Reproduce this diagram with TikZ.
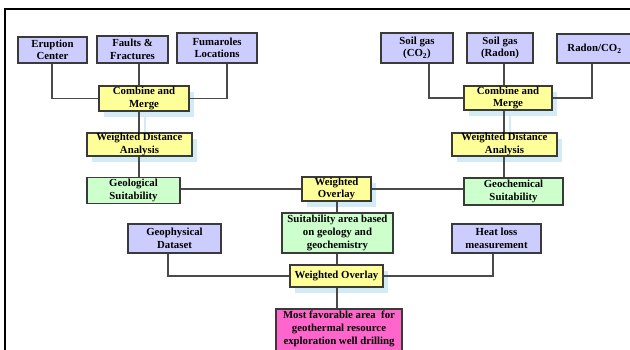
\documentclass[tikz,border=0pt]{standalone}
\usepackage{fontspec}
\setmainfont{Liberation Serif}
\usetikzlibrary{shadows}
\definecolor{lav}{HTML}{CCCCFF}
\definecolor{yel}{HTML}{FFFF99}
\definecolor{grn}{HTML}{CCFFCC}
\definecolor{mag}{HTML}{FF66CC}
\definecolor{shblue}{HTML}{D3EBF4}
\definecolor{edge}{HTML}{3A3A3A}
\definecolor{wire}{HTML}{4A4A4A}
\tikzset{
  box/.style={draw=edge, line width=1.1pt, inner sep=0pt, align=center,
    font=\fontsize{10.8}{12.6}\selectfont\bfseries, text=black},
  inbox/.style={box, fill=lav},
  procbox/.style={box, fill=yel, general shadow={fill=shblue, shadow xshift=5pt, shadow yshift=-6pt}},
  resbox/.style={box, fill=grn},
  finalbox/.style={box, fill=mag},
  wire/.style={draw=wire, line width=1.1pt},
  shline/.style={draw=shblue, line width=1.2pt},
}
\begin{document}
\begin{tikzpicture}[x=1pt,y=-1pt]
\useasboundingbox (0,0) rectangle (630,350);
% frame
\draw[line width=1.6pt, black] (5,352) -- (5,9) -- (632,9);

% shadow lines of connectors between yellow boxes
\draw[shline] (145,111) -- (145,133);
\draw[shline] (510,110) -- (510,133);

% left branch
\node[inbox, minimum width=69pt, minimum height=26pt] (erupt) at (52.5,50) {Eruption\\Center};
\node[inbox, minimum width=71pt, minimum height=27pt] (faults) at (132.5,49.5) {Faults \&\\Fractures};
\node[inbox, minimum width=80pt, minimum height=30pt] (fum) at (217,48) {Fumaroles\\Locations};
\node[procbox, minimum width=90pt, minimum height=25pt] (cm1) at (144,98.5) {Combine and\\Merge};
\node[procbox, minimum width=105pt, minimum height=23pt] (wda1) at (139.5,144.5) {Weighted Distance\\Analysis};
\node[resbox, minimum width=93pt, minimum height=26pt] (geol) at (133.5,190.5) {Geological\\Suitability};

% right branch
\node[inbox, minimum width=72pt, minimum height=30pt] (soil1) at (417,48) {Soil gas\\(CO\textsubscript{2})};
\node[inbox, minimum width=66pt, minimum height=30pt] (soil2) at (500,48) {Soil gas\\(Radon)};
\node[inbox, minimum width=75pt, minimum height=29pt] (radon) at (594.5,48.5) {Radon/CO\textsubscript{2}};
\node[procbox, minimum width=88pt, minimum height=24pt] (cm2) at (508,98) {Combine and\\Merge};
\node[procbox, minimum width=105pt, minimum height=23pt] (wda2) at (504.5,144.5) {Weighted Distance\\Analysis};
\node[resbox, minimum width=99pt, minimum height=27pt] (geoc) at (513.5,191.5) {Geochemical\\Suitability};

% middle
\node[procbox, minimum width=69pt, minimum height=24pt] (wo1) at (336.5,189) {Weighted\\Overlay};
\node[resbox, minimum width=111pt, minimum height=40pt] (suit) at (337.5,233) {Suitability area based\\on geology and\\geochemistry};
\node[inbox, minimum width=93pt, minimum height=29pt] (geoph) at (174.5,238.5) {Geophysical\\Dataset};
\node[inbox, minimum width=89pt, minimum height=29pt] (heat) at (496.5,238.5) {Heat loss\\measurement};
\node[procbox, minimum width=93pt, minimum height=22pt] (wo2) at (336.5,276) {Weighted Overlay};
\node[finalbox, minimum width=126pt, minimum height=48pt] (most) at (339,333) {};
\node[font=\fontsize{10.8}{12.6}\selectfont\bfseries, align=center, anchor=north, inner sep=0pt] (mosttext) at (339,311) {Most favorable area\ \ for\\geothermal resource\\exploration well drilling};

% bend coordinates
\coordinate (xe) at (52,0);
\coordinate (xf) at (139,0);
\coordinate (xm) at (227,0);
\coordinate (xs1) at (429,0);
\coordinate (xs2) at (504,0);
\coordinate (xr) at (592,0);
\coordinate (xc) at (337,0);
\coordinate (xg) at (168,0);
\coordinate (xh) at (493,0);

% connectors left
\draw[wire] (erupt.south -| xe) |- (cm1.west);
\draw[wire] (faults.south -| xf) -- (cm1.north -| xf);
\draw[wire] (fum.south -| xm) |- (cm1.east);
\draw[wire] (cm1.south -| xf) -- (wda1.north -| xf);
\draw[wire] (wda1.south -| xf) -- (geol.north -| xf);
% connectors right
\draw[wire] (soil1.south -| xs1) |- (cm2.west);
\draw[wire] (soil2.south -| xs2) -- (cm2.north -| xs2);
\draw[wire] (radon.south -| xr) |- (cm2.east);
\draw[wire] (cm2.south -| xs2) -- (wda2.north -| xs2);
\draw[wire] (wda2.south -| xs2) -- (geoc.north -| xs2);
% middle
\draw[wire] (geol.east |- wo1.west) -- (wo1.west);
\draw[wire] (wo1.east) -- (geoc.west |- wo1.east);
\draw[wire] (wo1.south -| xc) -- (suit.north -| xc);
\draw[wire] (suit.south -| xc) -- (wo2.north -| xc);
\draw[wire] (geoph.south -| xg) |- (wo2.west);
\draw[wire] (heat.south -| xh) |- (wo2.east);
\draw[wire] (wo2.south -| xc) -- (most.north -| xc);
\end{tikzpicture}
\end{document}
